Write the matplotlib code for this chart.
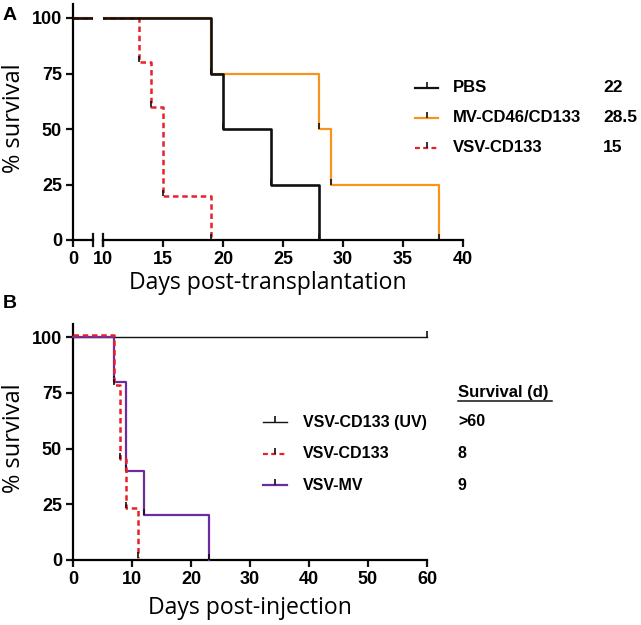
import numpy as np
import matplotlib
matplotlib.use("Agg")
import matplotlib.pyplot as plt
import matplotlib.transforms as mtransforms
from matplotlib.lines import Line2D

# ---- data: panel A (days post-transplantation, % survival)
pbs_days = [0, 19, 20, 24, 28]
pbs_surv = [100, 75, 50, 25, 0]
mv_days = [0, 19, 28, 29, 38]
mv_surv = [100, 75, 50, 25, 0]
vsv_a_days = [0, 13, 14, 15, 19]
vsv_a_surv = [100, 80, 60, 20, 0]
a_labels = ["PBS", "MV-CD46/CD133", "VSV-CD133"]
a_medians = ["22", "28.5", "15"]

# ---- data: panel B (days post-injection, % survival)
uv_days = [0, 60]
uv_surv = [100, 100]
vsv_b_days = [0, 7, 8, 9, 11]
vsv_b_surv = [100, 77.8, 44.4, 22.2, 0]
vsvmv_days = [0, 7, 9, 12, 23]
vsvmv_surv = [100, 80, 40, 20, 0]
b_labels = ["VSV-CD133 (UV)", "VSV-CD133", "VSV-MV"]
b_medians = [">60", "8", "9"]

W, H = 641, 625
BLACK = "#111111"
ORANGE = "#F7941D"
RED = "#E8202A"
PURPLE = "#6C2BA0"
DASH = (0, (2.2, 1.5))
LAB_FONT = "Open Sans"

plt.rcParams["font.family"] = ["Liberation Sans", "DejaVu Sans"]


def px(x):
    return x / W


def py(y):
    return 1 - y / H


def km(ax, days, surv, color, lw, ls="-", z=2, transform=None):
    kw = {} if transform is None else {"transform": transform}
    ax.step(days, surv, where="post", color=color, lw=lw, ls=ls, zorder=z, **kw)
    ax.plot(days[1:], surv[1:], ls="none", marker=2, ms=4, mew=1.2,
            color=BLACK, zorder=z + 0.5, **kw)


def style(ax, left=True):
    for s in ["top", "right"]:
        ax.spines[s].set_visible(False)
    ax.spines["bottom"].set_linewidth(1.6)
    ax.spines["left"].set_linewidth(1.6)
    ax.tick_params(width=1.6, length=5, labelsize=13, pad=3, color=BLACK)
    for t in ax.get_xticklabels() + ax.get_yticklabels():
        t.set_fontweight("bold")
    if not left:
        ax.spines["left"].set_visible(False)
        ax.tick_params(axis="y", left=False, labelleft=False)


fig = plt.figure(figsize=(W / 100, H / 100), dpi=100)

# ---------------- panel A (broken x axis) ----------------
a_bot, a_top = 240, 4
ylim_a = (0, 100 * (a_bot - a_top) / (a_bot - 18))
axL = fig.add_axes([px(73), py(a_bot), px(93 - 73), (a_bot - a_top) / H])
axR = fig.add_axes([px(103), py(a_bot), px(463 - 103), (a_bot - a_top) / H])
for ax in (axL, axR):
    km(ax, mv_days, mv_surv, ORANGE, 1.6, z=2)
    km(ax, vsv_a_days, vsv_a_surv, RED, 1.8, ls=DASH, z=3)
    km(ax, pbs_days, pbs_surv, BLACK, 1.9, z=4)
    ax.set_ylim(*ylim_a)
    for ln in ax.lines:
        ln.set_clip_on(True)
axL.set_xlim(0, 1.67)
axL.set_xticks([0])
axL.set_yticks([0, 25, 50, 75, 100])
axR.set_xlim(10, 40)
axR.set_xticks(np.arange(10, 41, 5))
style(axL)
style(axR, left=False)
# break marks
for ax, xa in ((axL, 1.0), (axR, 0.0)):
    ax.plot([xa, xa], [-0.025, 0.025], transform=ax.transAxes, color=BLACK,
            lw=1.6, clip_on=False)
fig.text(px(14), py(118), "% survival", fontsize=17, family=LAB_FONT,
         rotation=90, ha="center", va="center")
fig.text(px(268), py(283), "Days post-transplantation", fontsize=16.6,
         family=LAB_FONT, ha="center", va="center")
fig.text(px(3), py(15), "A", fontsize=14, weight="bold", va="center")

a_colors = [BLACK, ORANGE, RED]
a_styles = ["-", "-", DASH]
for i, (lab, med) in enumerate(zip(a_labels, a_medians)):
    yy = py(88 + 30 * i)
    fig.add_artist(Line2D([px(415), px(426.5), px(438)], [yy, yy, yy],
                          color=a_colors[i], ls=a_styles[i], lw=1.6,
                          marker=2, markevery=[1], ms=4, mew=1.2, mec=BLACK))
    fig.text(px(453), yy, lab, fontsize=12, weight="bold", va="center")
    fig.text(px(603), yy, med, fontsize=12.5, weight="bold", va="center")

# ---------------- panel B ----------------
b_bot, b_top = 560, 324
axB = fig.add_axes([px(73), py(b_bot), px(427 - 73), (b_bot - b_top) / H])
km(axB, uv_days, uv_surv, BLACK, 1.0, z=2)
km(axB, vsvmv_days, vsvmv_surv, PURPLE, 1.6, z=3)
shift = mtransforms.offset_copy(axB.transData, fig=fig, x=0, y=2, units="dots")
km(axB, vsv_b_days, vsv_b_surv, RED, 1.8, ls=DASH, z=4, transform=shift)
axB.set_xlim(0, 60)
axB.set_ylim(0, 100 * (b_bot - b_top) / (b_bot - 337))
axB.set_xticks(np.arange(0, 61, 10))
axB.set_yticks([0, 25, 50, 75, 100])
for ln in axB.lines:
    ln.set_clip_on(False)
style(axB)
fig.text(px(14), py(438), "% survival", fontsize=17, family=LAB_FONT,
         rotation=90, ha="center", va="center")
fig.text(px(250), py(608), "Days post-injection", fontsize=16.6,
         family=LAB_FONT, ha="center", va="center")
fig.text(px(3), py(303), "B", fontsize=14, weight="bold", va="center")

fig.text(px(458), py(392), "Survival (d)", fontsize=12, weight="bold",
         va="center")
fig.add_artist(Line2D([px(458), px(552)], [py(401), py(401)], color=BLACK, lw=1.1))
b_colors = [BLACK, RED, PURPLE]
b_styles = ["-", DASH, "-"]
b_lw = [1.0, 1.6, 1.6]
for i, (lab, med) in enumerate(zip(b_labels, b_medians)):
    yy = py(422 + 31.5 * i)
    fig.add_artist(Line2D([px(263), px(275), px(287)], [yy, yy, yy],
                          color=b_colors[i], ls=b_styles[i], lw=b_lw[i],
                          marker=2, markevery=[1], ms=4, mew=1.2, mec=BLACK))
    fig.text(px(303), yy, lab, fontsize=11.5, weight="bold", va="center")
    fig.text(px(458), yy, med, fontsize=11.5, weight="bold", va="center")

fig.savefig("out.png", dpi=100)
